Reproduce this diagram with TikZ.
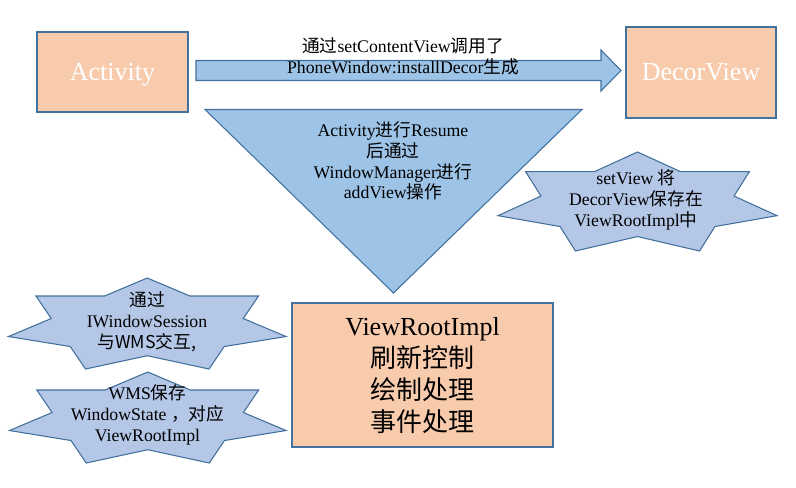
\documentclass[tikz,border=0pt]{standalone}
\usepackage{fontspec}
\setmainfont{Liberation Serif}
\newfontfamily\cjkfont{Noto Sans CJK SC}
\newcommand\zh[1]{{\cjkfont #1}}
\definecolor{bord}{HTML}{41719C}
\definecolor{orangefill}{HTML}{F8CBAD}
\definecolor{bluefill}{HTML}{9DC3E6}
\definecolor{starfill}{HTML}{B4C7E7}
\tikzset{
  outl/.style={draw=bord, line width=0.8pt, line join=miter},
  orangebox/.style={outl, fill=orangefill},
  bluebody/.style={outl, fill=bluefill},
  starshape/.style={outl, fill=starfill},
  smalltext/.style={align=center, inner sep=0pt, font=\fontsize{13.3}{15.6}\selectfont},
  bigtext/.style={align=center, inner sep=0pt, font=\fontsize{19.5}{24}\selectfont},
}
\newcommand\sevenstar[4]{% x, y, w, h (top-left corner, size)
  \begin{scope}[shift={(#1,#2)},xscale=#3,yscale=#4]
    \draw[starshape] (0,0.643) -- (0.154,0.445) -- (0.099,0.198) -- (0.346,0.198)
      -- (0.5,0) -- (0.654,0.198) -- (0.901,0.198) -- (0.846,0.445) -- (1,0.643)
      -- (0.7775,0.753) -- (0.7225,1) -- (0.5,0.854) -- (0.2775,1) -- (0.2225,0.753) -- cycle;
  \end{scope}}
\begin{document}
\begin{tikzpicture}[x=0.75pt,y=-0.75pt]
\useasboundingbox (0,0) rectangle (796,487);

% boxes
\draw[orangebox] (37,32) rectangle (188,112);
\node[bigtext, text=white, anchor=base] (act) at (112.5,80) {Activity};
\draw[orangebox] (626,27) rectangle (776,118);
\node[bigtext, text=white, anchor=base] (decor) at (701,80) {DecorView};
\draw[orangebox] (292,303) rectangle (553,447);
\node[bigtext] (vri) at (422.5,376) {ViewRootImpl\\\zh{刷新控制}\\\zh{绘制处理}\\\zh{事件处理}};

% block arrow
\draw[bluebody] (196,60.5) -- (601,60.5) -- (601,50) -- (621,70.5) -- (601,91) -- (601,80.5) -- (196,80.5) -- cycle;
\node[smalltext] (arrlabel) at (403,56) {\zh{通过}setContentView\zh{调用了}\\PhoneWindow:installDecor\zh{生成}};

% triangle
\draw[bluebody] (205,109.5) -- (582,109.5) -- (393.5,293) -- cycle;
\node[smalltext] (trilabel) at (393,161) {Activity\zh{进行}Resume\\\zh{后通过}\\WindowManager\zh{进行}\\addView\zh{操作}};

% stars
\sevenstar{498}{152}{279}{99}
\node[smalltext] (setview) at (636,200) {setView \zh{将}\\DecorView\zh{保存在}\\ViewRootImpl\zh{中}};
\sevenstar{8.5}{278}{277.5}{91}
\node[smalltext] (session) at (147,322) {\zh{通过}\\IWindowSession\\\zh{与WMS交互,}};
\sevenstar{9.5}{372}{276.5}{91}
\node[smalltext] (wms) at (147.5,415) {WMS\zh{保存}\\WindowState \zh{，对应}\\ViewRootImpl};
\end{tikzpicture}
\end{document}
